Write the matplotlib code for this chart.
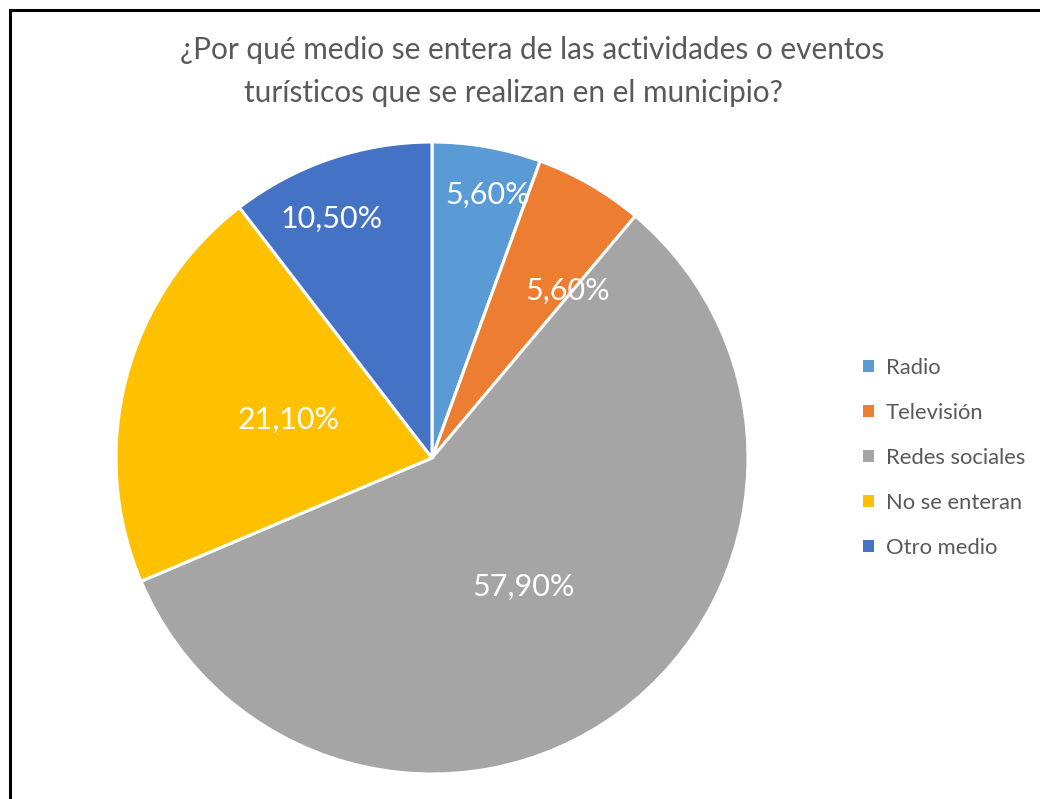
import matplotlib.pyplot as plt
from matplotlib.patches import Rectangle
import numpy as np

plt.rcParams['font.family'] = ['Lato', 'DejaVu Sans']

# survey answers (share of respondents, %)
categories = ['Radio', 'Televisión', 'Redes sociales', 'No se enteran', 'Otro medio']
values = [5.6, 5.6, 57.9, 21.1, 10.5]
colors = ['#5B9BD5', '#ED7D31', '#A5A5A5', '#FFC000', '#4472C4']
# placement of each percentage label: fraction of the radius, angle shift (deg)
label_dist = [0.85, 0.68, 0.50, 0.47, 0.82]
label_shift = [-2, -9, -1, 0, 4]

W, H = 1040, 799
fig = plt.figure(figsize=(W / 100, H / 100), dpi=100)
fig.patch.set_facecolor('white')

# pie box: centre (432, 458), radius 316 px
cx, cy, r = 432, 458, 316
ax = fig.add_axes([(cx - r) / W, (H - cy - r) / H, 2 * r / W, 2 * r / H])
wedges, _ = ax.pie(values, colors=colors, startangle=90, counterclock=False,
                   radius=1, wedgeprops=dict(edgecolor='white', linewidth=2.2))
ax.set_xlim(-1, 1)
ax.set_ylim(-1, 1)
ax.set_aspect('equal')
ax.axis('off')

for w, v, d, s in zip(wedges, values, label_dist, label_shift):
    ang = np.deg2rad((w.theta1 + w.theta2) / 2 + s)
    ax.text(d * np.cos(ang), d * np.sin(ang), f'{v:.2f}%'.replace('.', ','),
            ha='center', va='center', color='white', fontsize=22)

# title, two lines
fig.text(532 / W, 1 - 50 / H, '¿Por qué medio se entera de las actividades o eventos',
         ha='center', va='center', fontsize=21.4, color='#595959')
fig.text(513 / W, 1 - 93 / H, 'turísticos que se realizan en el municipio?',
         ha='center', va='center', fontsize=21.4, color='#595959')

leg = fig.legend(wedges, categories, loc='center left',
                 bbox_to_anchor=(843 / W, 1 - 458 / H), frameon=False,
                 fontsize=15.8, labelcolor='#595959', handlelength=0.5,
                 handleheight=0.5, handletextpad=0.55, labelspacing=1.14)
for h in leg.legend_handles:
    h.set_edgecolor('none')

# outer frame
fig.add_artist(Rectangle((9.5 / W, -0.1), 1.0, 1 - 10.5 / H + 0.1, transform=fig.transFigure,
                         fill=False, edgecolor='black', linewidth=2.2))

fig.savefig('out.png', dpi=100, facecolor='white')
